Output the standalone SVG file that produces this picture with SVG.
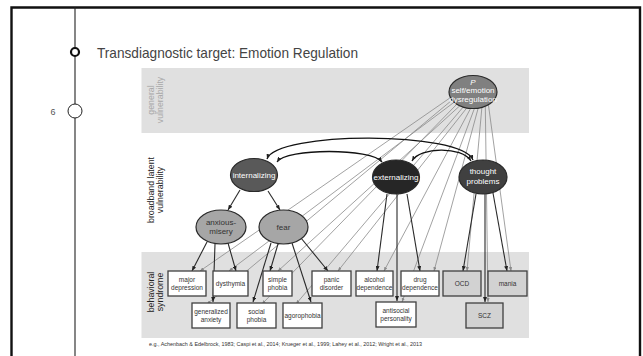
<svg xmlns="http://www.w3.org/2000/svg" width="643" height="356" viewBox="0 0 643 356">
<defs>
<marker id="ab" markerWidth="5" markerHeight="4" refX="5" refY="2" orient="auto-start-reverse" markerUnits="userSpaceOnUse"><path d="M0,0 L5,2 L0,4 z" fill="#222"/></marker>
<marker id="ag" markerWidth="4" markerHeight="3.4" refX="4" refY="1.7" orient="auto" markerUnits="userSpaceOnUse"><path d="M0,0 L4,1.7 L0,3.4 z" fill="#8a8a8a"/></marker>
</defs>
<style>
.band{fill:#e0e0e0}
.box{fill:#fff;stroke:#404040;stroke-width:1.3}
.gbox{fill:#d2d2d2;stroke:#404040;stroke-width:1.3}
.bt{font-family:"Liberation Sans",Arial,sans-serif;font-size:6.5px;fill:#333;text-anchor:middle}
.et{font-family:"Liberation Sans",Arial,sans-serif;font-size:8px;fill:#fff;text-anchor:middle}
.dt{font-family:"Liberation Sans",Arial,sans-serif;font-size:8px;fill:#333;text-anchor:middle}
.lab{font-family:"Liberation Sans",Arial,sans-serif;font-size:8.8px;text-anchor:middle}
.ell{stroke:#2a2a2a;stroke-width:1.2}
.gl{stroke:#8a8a8a;stroke-width:0.8;fill:none;marker-end:url(#ag)}
.bl{stroke:#2a2a2a;stroke-width:1.1;fill:none;marker-end:url(#ab)}
.arc{stroke:#111;stroke-width:1.3;fill:none;marker-start:url(#ab);marker-end:url(#ab)}
</style>
<rect width="643" height="356" fill="#fff"/>
<!-- slide frame -->
<g id="frame" fill="none" stroke="#111">
<path d="M11.5,356 V7.5 H640 V356" stroke-width="2.4"/>
<line x1="75" y1="7" x2="75" y2="356" stroke-width="1.1" stroke="#222"/>
<circle cx="75" cy="52" r="4" fill="#fff" stroke-width="2.2"/>
<circle cx="75" cy="111" r="7" fill="#fff" stroke-width="1" stroke="#222"/>
</g>
<text x="53" y="115" font-family="Liberation Sans,Arial,sans-serif" font-size="9" fill="#555" text-anchor="middle">6</text>
<text x="97" y="57.5" font-family="Liberation Sans,Arial,sans-serif" font-size="15" fill="#444" textLength="261" lengthAdjust="spacingAndGlyphs">Transdiagnostic target: Emotion Regulation</text>
<!-- bands -->
<rect class="band" x="141.5" y="68" width="387.5" height="65"/>
<rect class="band" x="141.5" y="252" width="387.5" height="86"/>
<text class="lab" transform="translate(154,100) rotate(-90)" fill="#a8a8a8">general</text>
<text class="lab" transform="translate(163,100) rotate(-90)" fill="#a8a8a8">vulnerability</text>
<text class="lab" transform="translate(154,190) rotate(-90)" fill="#222">broadband latent</text>
<text class="lab" transform="translate(163,190) rotate(-90)" fill="#222">vulnerability</text>
<text class="lab" transform="translate(154,292) rotate(-90)" fill="#222">behavioral</text>
<text class="lab" transform="translate(163,292) rotate(-90)" fill="#222">syndrome</text>
<!-- connectors -->
<g id="connectors">
<path class="gl" d="M450.4,97.6 L200,271"/>
<path class="gl" d="M452,100.1 L207,304"/>
<path class="gl" d="M454.2,102.2 L229,271"/>
<path class="gl" d="M456.8,104.2 L262,304"/>
<path class="gl" d="M459.8,105.8 L278,271"/>
<path class="gl" d="M463.2,107 L296,304"/>
<path class="gl" d="M466.8,107.9 L338,271"/>
<path class="gl" d="M470.6,108.4 L384,271"/>
<path class="gl" d="M474.4,108.5 L402,302"/>
<path class="gl" d="M478.2,108.1 L434,271"/>
<path class="gl" d="M481.9,107.3 L467,271"/>
<path class="gl" d="M485.3,106.2 L488,302"/>
<path class="gl" d="M488.4,104.6 L511,271"/>
<path class="bl" d="M240,190 L228,210"/>
<path class="bl" d="M268,191 L280,210"/>
<path class="bl" d="M207,242 L192,271"/>
<path class="bl" d="M215,244 L213,302"/>
<path class="bl" d="M228,243 L236,271"/>
<path class="bl" d="M271,243 L253,302"/>
<path class="bl" d="M278,244 L270,271"/>
<path class="bl" d="M292,243 L311,302"/>
<path class="bl" d="M301,238 L328,271"/>
<path class="bl" d="M387,194 L377,271"/>
<path class="bl" d="M397,194 L397,301"/>
<path class="bl" d="M407,194 L420,271"/>
<path class="bl" d="M476,194 L463,271"/>
<path class="bl" d="M485,194 L485,302"/>
<path class="bl" d="M493,193 L507,271"/>
<path class="arc" d="M267,159 C276,131 462,131 473,160"/>
<path class="arc" d="M277,162 C286,148 372,148 382,162"/>
<path class="arc" d="M412,161 C420,147 462,146 471,161"/>
</g>
<!-- latent nodes -->
<g id="p"><ellipse class="ell" cx="473" cy="92" rx="24" ry="16.5" fill="#808080"/>
<text class="et" x="473" y="84.5" font-size="6.5" font-style="italic">P</text>
<text class="et" x="473" y="93" font-size="7.3">self/emotion</text>
<text class="et" x="473" y="101.5" font-size="7.3">dysregulation</text></g>
<g id="internalizing"><ellipse class="ell" cx="254" cy="175" rx="23.5" ry="16.5" fill="#595959"/>
<text class="et" x="254" y="178">internalizing</text></g>
<g id="externalizing"><ellipse class="ell" cx="396" cy="177" rx="23.5" ry="17" fill="#262626"/>
<text class="et" x="396" y="180">externalizing</text></g>
<g id="thought"><ellipse class="ell" cx="483" cy="177" rx="24" ry="17" fill="#404040"/>
<text class="et" x="483" y="174" font-size="8.3">thought</text>
<text class="et" x="483" y="184" font-size="8.3">problems</text></g>
<g id="anxious"><ellipse class="ell" cx="221" cy="227" rx="25" ry="17" fill="#a6a6a6"/>
<text class="dt" x="221" y="224.5">anxious-</text>
<text class="dt" x="221" y="234">misery</text></g>
<g id="fear"><ellipse class="ell" cx="283.5" cy="227" rx="24.5" ry="17" fill="#a6a6a6"/>
<text class="dt" x="283.5" y="230">fear</text></g>
<!-- behavioral syndromes -->
<g id="major"><rect class="box" x="168" y="271" width="38" height="25"/><text class="bt" x="187" y="281.5">major</text><text class="bt" x="187" y="290">depression</text></g>
<g id="dysthymia"><rect class="box" x="213" y="271" width="35" height="25"/><text class="bt" x="230.5" y="286">dysthymia</text></g>
<g id="simple"><rect class="box" x="263" y="271" width="29" height="25"/><text class="bt" x="277.5" y="281.5">simple</text><text class="bt" x="277.5" y="290">phobia</text></g>
<g id="panic"><rect class="box" x="312" y="271" width="39" height="25"/><text class="bt" x="331.5" y="281.5">panic</text><text class="bt" x="331.5" y="290">disorder</text></g>
<g id="alcohol"><rect class="box" x="356" y="271" width="37" height="25"/><text class="bt" x="374.5" y="281.5">alcohol</text><text class="bt" x="374.5" y="290">dependence</text></g>
<g id="drug"><rect class="box" x="401" y="271" width="38" height="25"/><text class="bt" x="420" y="281.5">drug</text><text class="bt" x="420" y="290">dependence</text></g>
<g id="ocd"><rect class="gbox" x="443" y="271" width="38" height="25"/><text class="bt" x="462" y="286">OCD</text></g>
<g id="mania"><rect class="gbox" x="488" y="271" width="39" height="25"/><text class="bt" x="507.5" y="286">mania</text></g>
<g id="generalized"><rect class="box" x="192" y="303" width="38" height="25"/><text class="bt" x="211" y="313.5">generalized</text><text class="bt" x="211" y="322">anxiety</text></g>
<g id="social"><rect class="box" x="237" y="303" width="39" height="25"/><text class="bt" x="256.5" y="313.5">social</text><text class="bt" x="256.5" y="322">phobia</text></g>
<g id="agorophobia"><rect class="box" x="283" y="303" width="39" height="25"/><text class="bt" x="302.5" y="318">agorophobia</text></g>
<g id="antisocial"><rect class="box" x="376" y="302" width="40" height="25"/><text class="bt" x="396" y="312.5">antisocial</text><text class="bt" x="396" y="321">personality</text></g>
<g id="scz"><rect class="gbox" x="466" y="303" width="37" height="25"/><text class="bt" x="484.5" y="318">SCZ</text></g>
<text x="149" y="346" font-family="Liberation Sans,Arial,sans-serif" font-size="5.4" fill="#333" textLength="273" lengthAdjust="spacingAndGlyphs">e.g., Achenbach &amp; Edelbrock, 1983; Caspi et al., 2014; Krueger et al., 1999; Lahey et al., 2012; Wright et al., 2013</text>
</svg>
